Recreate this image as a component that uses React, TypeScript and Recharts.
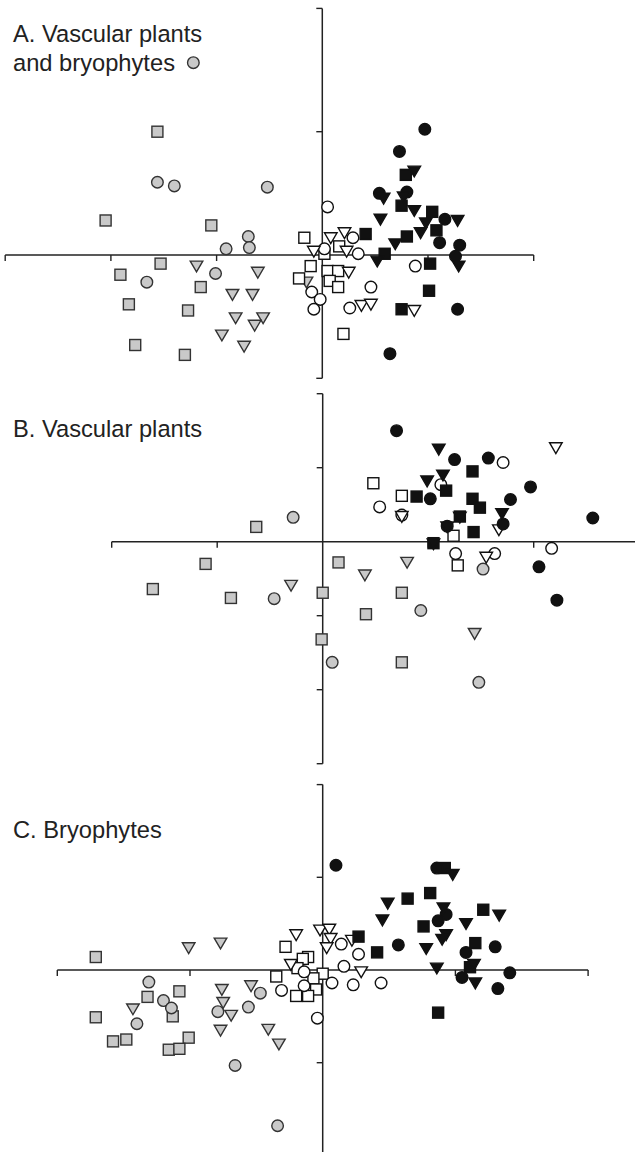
import React from "react";
import {
	ReferenceDot,
	ReferenceLine,
	Scatter,
	ScatterChart,
	XAxis,
	YAxis,
} from "recharts";

type Pt = [number, number];

// Panel A: vascular plants and bryophytes
const aGraySq: Pt[] = [
	[-1.56, 1.0], [-2.05, 0.28], [-1.05, 0.24], [-1.53, -0.07], [-1.91, -0.16],
	[-1.15, -0.26], [-1.83, -0.4], [-1.27, -0.45], [-1.77, -0.73], [-1.3, -0.81],
];
const aGrayCi: Pt[] = [
	[-1.56, 0.59], [-1.4, 0.56], [-0.52, 0.55], [-0.7, 0.15], [-0.69, 0.06],
	[-0.91, 0.05], [-1.01, -0.15], [-1.66, -0.22], [-1.22, 1.56],
];
const aGrayTr: Pt[] = [
	[-1.19, -0.09], [-0.61, -0.14], [-0.85, -0.32], [-0.66, -0.32], [-0.82, -0.51],
	[-0.56, -0.51], [-0.64, -0.57], [-0.95, -0.65], [-0.74, -0.74], [-0.15, -0.22],
];
const aWhiteSq: Pt[] = [
	[-0.17, 0.14], [-0.11, -0.09], [-0.22, -0.19], [0.02, 0.01], [0.16, 0.07],
	[0.05, -0.13], [0.15, -0.13], [0.07, -0.21], [0.15, -0.26], [0.2, -0.64],
];
const aWhiteCi: Pt[] = [
	[0.05, 0.39], [0.29, 0.14], [0.34, 0.01], [0.02, 0.05], [0.88, -0.09],
	[0.46, -0.26], [-0.1, -0.3], [-0.02, -0.36], [-0.08, -0.44], [0.26, -0.43],
];
const aWhiteTr: Pt[] = [
	[0.08, 0.14], [0.21, 0.18], [-0.08, 0.03], [0.23, 0.03], [0.25, -0.14],
	[0.37, -0.41], [0.46, -0.4], [0.87, -0.45],
];
const aBlackSq: Pt[] = [
	[0.79, 0.65], [0.75, 0.4], [1.04, 0.35], [1.08, 0.2], [0.41, 0.17],
	[0.8, 0.15], [0.59, 0.01], [1.02, -0.07], [1.01, -0.29], [0.75, -0.44],
];
const aBlackCi: Pt[] = [
	[0.97, 1.02], [0.73, 0.84], [0.54, 0.5], [0.8, 0.51], [1.16, 0.29],
	[1.11, 0.1], [1.3, 0.08], [1.26, -0.01], [1.28, -0.44], [0.64, -0.8],
];
const aBlackTr: Pt[] = [
	[0.87, 0.68], [0.58, 0.46], [0.77, 0.47], [0.87, 0.36], [0.55, 0.29],
	[0.98, 0.26], [1.28, 0.28], [0.93, 0.18], [0.69, 0.09], [0.52, -0.05], [1.29, -0.09],
];

// Panel B: vascular plants
const bGraySq: Pt[] = [
	[-0.63, 0.2], [-1.11, -0.3], [-1.61, -0.64], [-0.87, -0.76], [0.0, -0.69],
	[-0.01, -1.32], [0.15, -0.28], [0.41, -0.98], [0.75, -0.69], [0.75, -1.63],
];
const bGrayCi: Pt[] = [
	[-0.28, 0.33], [-0.46, -0.77], [0.09, -1.63], [1.52, -0.37], [0.93, -0.93], [1.48, -1.9],
];
const bGrayTr: Pt[] = [[-0.3, -0.59], [0.4, -0.45], [0.8, -0.28], [1.44, -1.24]];
const bWhiteSq: Pt[] = [[0.48, 0.79], [0.75, 0.62], [1.24, 0.08], [1.28, -0.32]];
const bWhiteCi: Pt[] = [
	[1.71, 1.07], [1.12, 0.77], [0.54, 0.47], [0.75, 0.36], [1.26, -0.16], [1.63, -0.16], [2.17, -0.09],
];
const bWhiteTr: Pt[] = [[2.21, 1.27], [0.75, 0.34], [1.67, 0.16], [1.55, -0.21]];
const bBlackSq: Pt[] = [
	[1.42, 0.95], [0.89, 0.61], [1.17, 0.69], [1.42, 0.58], [1.49, 0.46],
	[1.3, 0.34], [1.43, 0.13], [1.05, -0.02],
];
const bBlackCi: Pt[] = [
	[0.7, 1.5], [1.25, 1.11], [1.57, 1.13], [1.97, 0.74], [1.78, 0.57], [2.56, 0.32],
	[1.71, 0.24], [1.02, 0.58], [1.18, 0.21], [2.05, -0.34], [2.22, -0.79],
];
const bBlackTr: Pt[] = [
	[1.1, 1.25], [1.14, 0.9], [0.99, 0.82], [1.7, 0.38], [1.3, 0.33], [1.18, 0.2], [1.05, -0.03],
];

// Panel C: bryophytes
const cGraySq: Pt[] = [
	[-1.71, 0.14], [-1.32, -0.29], [-1.08, -0.23], [-1.71, -0.51], [-1.13, -0.5],
	[-1.58, -0.77], [-1.48, -0.75], [-1.01, -0.73], [-1.16, -0.86], [-1.08, -0.85],
];
const cGrayCi: Pt[] = [
	[-1.31, -0.13], [-1.2, -0.33], [-1.14, -0.41], [-1.4, -0.58], [-0.79, -0.45],
	[-0.56, -0.4], [-0.47, -0.25], [-0.66, -1.03], [-0.34, -1.68],
];
const cGrayTr: Pt[] = [
	[-1.01, 0.24], [-0.77, 0.29], [-1.43, -0.42], [-0.76, -0.21], [-0.75, -0.35],
	[-0.69, -0.49], [-0.77, -0.65], [-0.54, -0.17], [-0.41, -0.64], [-0.33, -0.8],
];
const cWhiteSq: Pt[] = [
	[-0.28, 0.25], [-0.35, -0.07], [-0.11, 0.14], [-0.15, 0.12], [-0.19, 0.02],
	[0.0, -0.04], [-0.07, -0.09], [-0.05, -0.21], [-0.2, -0.28], [-0.11, -0.28],
];
const cWhiteCi: Pt[] = [
	[-0.31, -0.22], [-0.14, -0.02], [-0.14, -0.17], [-0.04, -0.52], [0.07, -0.14],
	[0.14, 0.28], [0.27, 0.17], [0.16, 0.04], [0.23, -0.16], [0.44, -0.14],
];
const cWhiteTr: Pt[] = [
	[-0.2, 0.38], [-0.02, 0.43], [0.05, 0.44], [0.06, 0.34], [0.03, 0.24],
	[0.22, 0.32], [0.29, -0.02], [-0.24, 0.06],
];
const cBlackSq: Pt[] = [
	[0.92, 1.1], [0.64, 0.77], [0.81, 0.83], [1.21, 0.65], [0.76, 0.47],
	[0.27, 0.36], [0.41, 0.19], [1.15, 0.29], [1.11, 0.03], [0.87, -0.46],
];
const cBlackCi: Pt[] = [
	[0.1, 1.13], [0.86, 1.1], [0.93, 0.6], [0.87, 0.53], [0.57, 0.27],
	[1.08, 0.19], [1.3, 0.25], [1.05, -0.08], [1.41, -0.03], [1.32, -0.2],
];
const cBlackTr: Pt[] = [
	[0.98, 1.03], [0.49, 0.72], [0.45, 0.54], [0.91, 0.67], [1.08, 0.5], [1.33, 0.59],
	[0.93, 0.38], [0.9, 0.33], [0.78, 0.23], [0.86, 0.02], [1.14, 0.06], [1.15, -0.14],
];

const GRAY = "#c9c9c9";
const AXIS = "#222";

type Kind = "sq" | "ci" | "tr";

const markerFill = { gray: GRAY, white: "#ffffff", black: "#111111" };
const markerStroke = { gray: "#333", white: "#111", black: "#111" };

const makeShape = (kind: Kind, tone: keyof typeof markerFill) => (props: any) => {
	const { cx, cy } = props;
	const fill = markerFill[tone];
	const stroke = markerStroke[tone];
	if (kind === "sq") {
		return <rect x={cx - 5.5} y={cy - 5.5} width={11} height={11} fill={fill} stroke={stroke} strokeWidth={1.4} />;
	}
	if (kind === "ci") {
		return <circle cx={cx} cy={cy} r={5.8} fill={fill} stroke={stroke} strokeWidth={1.4} />;
	}
	return (
		<polygon
			points={`${cx - 6.3},${cy - 5} ${cx + 6.3},${cy - 5} ${cx},${cy + 5.8}`}
			fill={fill}
			stroke={stroke}
			strokeWidth={1.4}
			strokeLinejoin="miter"
		/>
	);
};

const toRows = (pts: Pt[]) => pts.map(([x, y]) => ({ x, y }));

interface Group {
	pts: Pt[];
	kind: Kind;
	tone: keyof typeof markerFill;
}

interface PanelProps {
	top: number;
	width: number;
	height: number;
	margin: { top: number; right: number; bottom: number; left: number };
	xDomain: [number, number];
	yDomain: [number, number];
	xTicks: number[];
	yTicks: number[];
	groups: Group[];
}

const xTickShape = (p: any) => <line x1={p.cx} y1={p.cy} x2={p.cx} y2={p.cy + 6} stroke={AXIS} strokeWidth={1.4} />;
const yTickShape = (p: any) => <line x1={p.cx} y1={p.cy} x2={p.cx - 6} y2={p.cy} stroke={AXIS} strokeWidth={1.4} />;

const Panel = ({ top, width, height, margin, xDomain, yDomain, xTicks, yTicks, groups }: PanelProps) => (
	<div style={{ position: "absolute", left: 0, top }}>
		<ScatterChart width={width} height={height} margin={margin}>
			<XAxis type="number" dataKey="x" domain={xDomain} allowDataOverflow hide />
			<YAxis type="number" dataKey="y" domain={yDomain} allowDataOverflow hide />
			<ReferenceLine y={0} stroke={AXIS} strokeWidth={1.5} />
			<ReferenceLine x={0} stroke={AXIS} strokeWidth={1.5} />
			{xTicks.map((t) => (
				<ReferenceDot key={`xt${t}`} x={t} y={0} r={0} ifOverflow="visible" shape={xTickShape} />
			))}
			{yTicks.map((t) => (
				<ReferenceDot key={`yt${t}`} x={0} y={t} r={0} ifOverflow="visible" shape={yTickShape} />
			))}
			{groups.map((g, i) => (
				<Scatter
					key={i}
					data={toRows(g.pts)}
					shape={makeShape(g.kind, g.tone)}
					isAnimationActive={false}
				/>
			))}
		</ScatterChart>
	</div>
);

const titleStyle: React.CSSProperties = {
	fontFamily: "'Liberation Sans', Arial, sans-serif",
	fontSize: 23.7,
	fill: "#222",
};

export default function App() {
	return (
		<div style={{ position: "absolute", left: 0, top: 0, width: 635, height: 1152, overflow: "hidden", background: "#fff" }}>
			<Panel
				top={0}
				width={635}
				height={400}
				margin={{ top: 8.4, right: 101.3, bottom: 21.7, left: 5.2 }}
				xDomain={[-3, 2]}
				yDomain={[-1, 2]}
				xTicks={[-3, -2, -1, 1, 2]}
				yTicks={[-1, 1, 2]}
				groups={[
					{ pts: aGraySq, kind: "sq", tone: "gray" },
					{ pts: aGrayCi, kind: "ci", tone: "gray" },
					{ pts: aGrayTr, kind: "tr", tone: "gray" },
					{ pts: aWhiteSq, kind: "sq", tone: "white" },
					{ pts: aWhiteCi, kind: "ci", tone: "white" },
					{ pts: aWhiteTr, kind: "tr", tone: "white" },
					{ pts: aBlackSq, kind: "sq", tone: "black" },
					{ pts: aBlackCi, kind: "ci", tone: "black" },
					{ pts: aBlackTr, kind: "tr", tone: "black" },
				]}
			/>
			<Panel
				top={384}
				width={645}
				height={400}
				margin={{ top: 9.7, right: 5.8, bottom: 20.3, left: 111.7 }}
				xDomain={[-2, 3]}
				yDomain={[-3, 2]}
				xTicks={[-2, -1, 1, 2, 3]}
				yTicks={[-3, -2, -1, 1, 2]}
				groups={[
					{ pts: bGraySq, kind: "sq", tone: "gray" },
					{ pts: bGrayCi, kind: "ci", tone: "gray" },
					{ pts: bGrayTr, kind: "tr", tone: "gray" },
					{ pts: bWhiteSq, kind: "sq", tone: "white" },
					{ pts: bWhiteCi, kind: "ci", tone: "white" },
					{ pts: bWhiteTr, kind: "tr", tone: "white" },
					{ pts: bBlackSq, kind: "sq", tone: "black" },
					{ pts: bBlackCi, kind: "ci", tone: "black" },
					{ pts: bBlackTr, kind: "tr", tone: "black" },
				]}
			/>
			<Panel
				top={768}
				width={635}
				height={400}
				margin={{ top: 16.6, right: 46.9, bottom: 12.6, left: 57.3 }}
				xDomain={[-2, 2]}
				yDomain={[-2, 2]}
				xTicks={[-2, -1, 1, 2]}
				yTicks={[-2, -1, 1, 2]}
				groups={[
					{ pts: cGraySq, kind: "sq", tone: "gray" },
					{ pts: cGrayCi, kind: "ci", tone: "gray" },
					{ pts: cGrayTr, kind: "tr", tone: "gray" },
					{ pts: cWhiteSq, kind: "sq", tone: "white" },
					{ pts: cWhiteCi, kind: "ci", tone: "white" },
					{ pts: cWhiteTr, kind: "tr", tone: "white" },
					{ pts: cBlackSq, kind: "sq", tone: "black" },
					{ pts: cBlackCi, kind: "ci", tone: "black" },
					{ pts: cBlackTr, kind: "tr", tone: "black" },
				]}
			/>
			<svg width={635} height={1152} style={{ position: "absolute", left: 0, top: 0, pointerEvents: "none" }}>
				<text x={13} y={42} style={titleStyle}>A. Vascular plants</text>
				<text x={13} y={71} style={titleStyle}>and bryophytes</text>
				<text x={13} y={437} style={titleStyle}>B. Vascular plants</text>
				<text x={13} y={838} style={titleStyle}>C. Bryophytes</text>
			</svg>
		</div>
	);
}
